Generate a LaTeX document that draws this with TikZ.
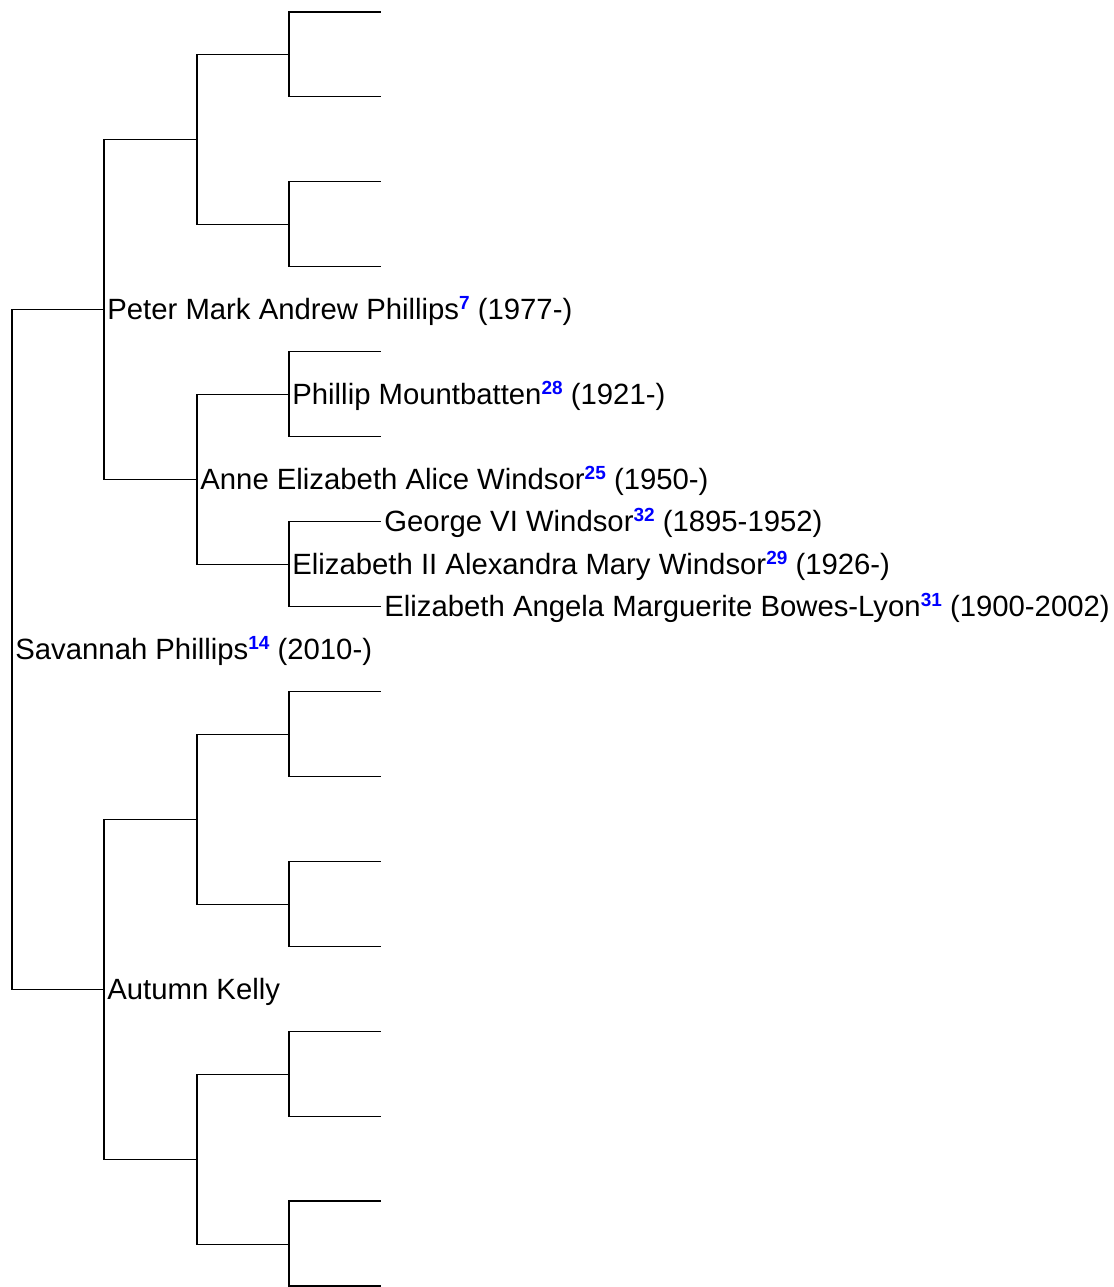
\documentclass[tikz,border=0pt]{standalone}
\usepackage{fontspec}
\setmainfont{Liberation Sans}
\newcommand\rn[1]{\raisebox{5pt}{\fontsize{9.5pt}{9.5pt}\selectfont\bfseries\color{blue}#1}}
\begin{document}
\begin{tikzpicture}[x=0.5pt,y=-0.5pt,
  tree/.style={draw=black,line width=0.55pt},
  person/.style={anchor=base west,yshift=-5pt,inner xsep=1.5pt,inner ysep=0pt,font=\fontsize{14.65pt}{17pt}\selectfont}]
\useasboundingbox (0,0) rectangle (1114,1287);
% generation 0
\coordinate (a1) at (12,649.5);
% generation 1
\coordinate (a2) at (104,309.5);
\coordinate (a3) at (104,989.5);
% generation 2
\coordinate (a4) at (197,139.5);
\coordinate (a5) at (197,479.5);
\coordinate (a6) at (197,819.5);
\coordinate (a7) at (197,1159.5);
% generation 3
\coordinate (a8)  at (289,54.5);
\coordinate (a9)  at (289,224.5);
\coordinate (a10) at (289,394.5);
\coordinate (a11) at (289,564.5);
\coordinate (a12) at (289,734.5);
\coordinate (a13) at (289,904.5);
\coordinate (a14) at (289,1074.5);
\coordinate (a15) at (289,1244.5);
% generation 4
\foreach \n in {16,...,31}{
  \coordinate (a\n) at (381,{12+84.93*(\n-16)});
}
% connectors
\foreach \n in {2,...,31}{
  \pgfmathtruncatemacro\pn{\n/2}
  \draw[tree] (a\pn) |- (a\n);
}
% people
\node[person] (savannah) at (a1) {Savannah Phillips\rn{14} (2010-)};
\node[person] (peter) at (a2) {Peter Mark Andrew Phillips\rn{7} (1977-)};
\node[person] (autumn) at (a3) {Autumn Kelly};
\node[person] (anne) at (a5) {Anne Elizabeth Alice Windsor\rn{25} (1950-)};
\node[person] (phillip) at (a10) {Phillip Mountbatten\rn{28} (1921-)};
\node[person] (elizabeth) at (a11) {Elizabeth II Alexandra Mary Windsor\rn{29} (1926-)};
\node[person] (george) at (a22) {George VI Windsor\rn{32} (1895-1952)};
\node[person] (bowes) at (a23) {Elizabeth Angela Marguerite Bowes-Lyon\rn{31} (1900-2002)};
\end{tikzpicture}
\end{document}
